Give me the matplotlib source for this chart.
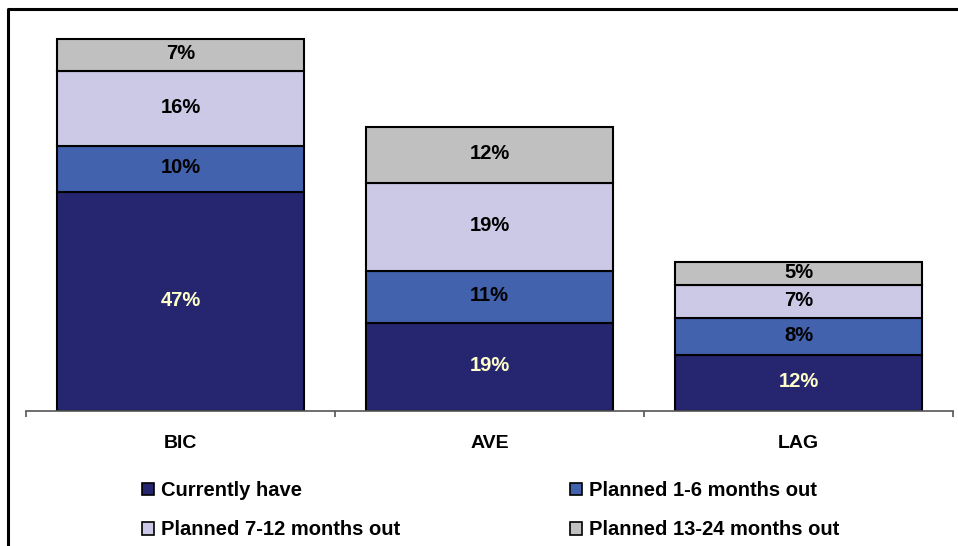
import matplotlib
import matplotlib.pyplot as plt
from matplotlib.lines import Line2D
from matplotlib.patches import Patch

matplotlib.use("Agg")

plt.rcParams["font.family"] = ["Liberation Sans", "DejaVu Sans"]
plt.rcParams["font.weight"] = "bold"

groups = ["BIC", "AVE", "LAG"]
series_names = [
    "Currently have",
    "Planned 1-6 months out",
    "Planned 7-12 months out",
    "Planned 13-24 months out",
]
currently_have = [47, 19, 12]
planned_1_6 = [10, 11, 8]
planned_7_12 = [16, 19, 7]
planned_13_24 = [7, 12, 5]

colors = ["#262670", "#4262ae", "#ccc9e6", "#c0c0c0"]
label_colors = ["#ffffcc", "black", "black", "black"]

W, H = 958, 546
fig = plt.figure(figsize=(W / 100, H / 100), dpi=100)

# frame around the chart (right and bottom edges fall outside the image)
fig.add_artist(Line2D([8 / W, 8 / W, 1.0], [0.0, 1 - 9 / H, 1 - 9 / H],
                      transform=fig.transFigure, color="black", lw=2.2))

ax = fig.add_axes([26 / W, 1 - 411 / H, 927 / W, 391 / H])

x = list(range(len(groups)))
bottom = [0, 0, 0]
for values, color, tcolor in zip(
    [currently_have, planned_1_6, planned_7_12, planned_13_24], colors, label_colors
):
    bars = ax.bar(x, values, width=0.8, bottom=bottom, color=color,
                  edgecolor="black", linewidth=1.5)
    for rect, v in zip(bars, values):
        ax.text(rect.get_x() + rect.get_width() / 2,
                rect.get_y() + rect.get_height() / 2 + 0.3,
                f"{v}%", ha="center", va="center", color=tcolor,
                fontsize=14.5, fontweight="bold")
    bottom = [b + v for b, v in zip(bottom, values)]

ax.set_xlim(-0.5, 2.5)
ax.set_ylim(0, 84)
for side in ["left", "right", "top"]:
    ax.spines[side].set_visible(False)
ax.spines["bottom"].set_color("#555555")
ax.spines["bottom"].set_linewidth(1.2)
ax.set_yticks([])

ax.set_xticks([-0.5, 0.5, 1.5, 2.5])
ax.set_xticklabels([])
ax.tick_params(axis="x", which="major", direction="out", length=4,
               width=1.2, color="#555555")
ax.set_xticks(x, minor=True)
ax.set_xticklabels(groups, minor=True, fontsize=14, fontweight="bold")
ax.tick_params(axis="x", which="minor", length=0, pad=17)

handles = [Patch(facecolor=c, edgecolor="black", linewidth=1.2) for c in colors]
order = [0, 2, 1, 3]
fig.legend([handles[i] for i in order], [series_names[i] for i in order],
           ncol=2, loc="upper left", bbox_to_anchor=(124 / W, 1 - 463 / H),
           frameon=False, handlelength=0.6, handleheight=0.6,
           handletextpad=0.35, columnspacing=8.4, labelspacing=1.0,
           prop={"weight": "bold", "size": 14.5})

fig.savefig("out.png", dpi=100)
